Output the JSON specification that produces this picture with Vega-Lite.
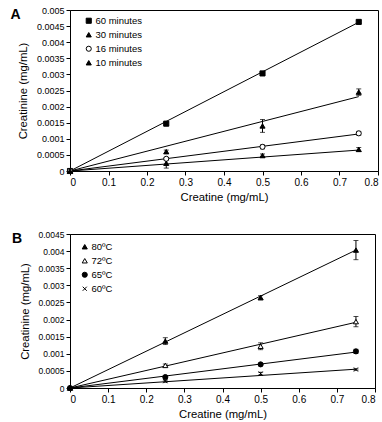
{
  "$schema": "https://vega.github.io/schema/vega-lite/v6.json",
  "padding": {"left": 9, "top": 5, "right": 5, "bottom": 5},
  "spacing": 26,
  "resolve": {"scale": {"shape": "independent", "fill": "independent", "stroke": "independent", "x": "independent", "y": "independent"}, "legend": {"shape": "independent", "fill": "independent", "stroke": "independent"}},
  "config": {
    "font": "Liberation Sans",
    "view": {"stroke": "black", "strokeWidth": 1},
    "axis": {"grid": false, "domainColor": "black", "tickColor": "black", "labelColor": "black", "titleColor": "black", "labelFontSize": 9, "titleFontSize": 11.3, "titleFontWeight": "normal", "tickSize": 4, "labelPadding": 2},
    "axisY": {"titlePadding": 8},
    "legend": {"labelFontSize": 9.5, "labelColor": "black"},
    "title": {"fontSize": 14, "fontWeight": "bold", "anchor": "start", "frame": "bounds", "color": "black"}
  },
  "datasets": {
    "ptsA": [
      {"series": "60 minutes", "x": 0, "y": 0, "lo": 0, "hi": 0},
      {"series": "60 minutes", "x": 0.25, "y": 0.00147, "lo": 0.00142, "hi": 0.00152},
      {"series": "60 minutes", "x": 0.5, "y": 0.00303, "lo": 0.00300, "hi": 0.00306},
      {"series": "60 minutes", "x": 0.75, "y": 0.00463, "lo": 0.00458, "hi": 0.00468},
      {"series": "30 minutes", "x": 0, "y": 0, "lo": 0, "hi": 0},
      {"series": "30 minutes", "x": 0.25, "y": 0.00060, "lo": 0.00055, "hi": 0.00065},
      {"series": "30 minutes", "x": 0.5, "y": 0.00140, "lo": 0.00120, "hi": 0.00160},
      {"series": "30 minutes", "x": 0.75, "y": 0.00245, "lo": 0.00235, "hi": 0.00255},
      {"series": "16 minutes", "x": 0, "y": 0, "lo": 0, "hi": 0},
      {"series": "16 minutes", "x": 0.25, "y": 0.00038, "lo": 0.00034, "hi": 0.00042},
      {"series": "16 minutes", "x": 0.5, "y": 0.00075, "lo": 0.00069, "hi": 0.00081},
      {"series": "16 minutes", "x": 0.75, "y": 0.00117, "lo": 0.00111, "hi": 0.00123},
      {"series": "10 minutes", "x": 0, "y": 0, "lo": 0, "hi": 0},
      {"series": "10 minutes", "x": 0.25, "y": 0.00024, "lo": 0.00009, "hi": 0.00039},
      {"series": "10 minutes", "x": 0.5, "y": 0.00048, "lo": 0.00043, "hi": 0.00053},
      {"series": "10 minutes", "x": 0.75, "y": 0.00067, "lo": 0.00061, "hi": 0.00073}
    ],
    "lineA": [
      {"series": "60 minutes", "x": 0, "y": 0},
      {"series": "60 minutes", "x": 0.75, "y": 0.00462},
      {"series": "30 minutes", "x": 0, "y": 0},
      {"series": "30 minutes", "x": 0.75, "y": 0.00231},
      {"series": "16 minutes", "x": 0, "y": 0},
      {"series": "16 minutes", "x": 0.75, "y": 0.00115},
      {"series": "10 minutes", "x": 0, "y": 0},
      {"series": "10 minutes", "x": 0.75, "y": 0.00065}
    ],
    "ptsB": [
      {"series": "80ºC", "x": 0, "y": 0, "lo": 0, "hi": 0},
      {"series": "80ºC", "x": 0.25, "y": 0.00137, "lo": 0.00127, "hi": 0.00147},
      {"series": "80ºC", "x": 0.5, "y": 0.00264, "lo": 0.00258, "hi": 0.00270},
      {"series": "80ºC", "x": 0.75, "y": 0.00403, "lo": 0.00375, "hi": 0.00431},
      {"series": "72ºC", "x": 0, "y": 0, "lo": 0, "hi": 0},
      {"series": "72ºC", "x": 0.25, "y": 0.00066, "lo": 0.00062, "hi": 0.00070},
      {"series": "72ºC", "x": 0.5, "y": 0.00122, "lo": 0.00112, "hi": 0.00132},
      {"series": "72ºC", "x": 0.75, "y": 0.00194, "lo": 0.00179, "hi": 0.00209},
      {"series": "65ºC", "x": 0, "y": 0, "lo": 0, "hi": 0},
      {"series": "65ºC", "x": 0.25, "y": 0.00032, "lo": 0.00029, "hi": 0.00035},
      {"series": "65ºC", "x": 0.5, "y": 0.00069, "lo": 0.00066, "hi": 0.00072},
      {"series": "65ºC", "x": 0.75, "y": 0.00107, "lo": 0.00101, "hi": 0.00113},
      {"series": "60ºC", "x": 0, "y": 0, "lo": 0, "hi": 0},
      {"series": "60ºC", "x": 0.25, "y": 0.00020, "lo": 0.00017, "hi": 0.00023},
      {"series": "60ºC", "x": 0.5, "y": 0.00042, "lo": 0.00038, "hi": 0.00046},
      {"series": "60ºC", "x": 0.75, "y": 0.00054, "lo": 0.00052, "hi": 0.00056}
    ],
    "lineB": [
      {"series": "80ºC", "x": 0, "y": 0},
      {"series": "80ºC", "x": 0.75, "y": 0.00403},
      {"series": "72ºC", "x": 0, "y": 0},
      {"series": "72ºC", "x": 0.75, "y": 0.00192},
      {"series": "65ºC", "x": 0, "y": 0},
      {"series": "65ºC", "x": 0.75, "y": 0.00105},
      {"series": "60ºC", "x": 0, "y": 0},
      {"series": "60ºC", "x": 0.75, "y": 0.00055}
    ]
  },
  "vconcat": [
    {
      "width": 308,
      "height": 161,
      "title": {"text": "A", "offset": -16, "dx": -7},
      "encoding": {
        "x": {"field": "x", "type": "quantitative", "scale": {"domain": [0, 0.8], "nice": false}, "axis": {"values": [0, 0.1, 0.2, 0.3, 0.4, 0.5, 0.6, 0.7, 0.8], "format": "~g", "labelFontSize": 10, "title": "Creatine (mg/mL)"}},
        "y": {"field": "y", "type": "quantitative", "scale": {"domain": [0, 0.005], "nice": false}, "axis": {"values": [0, 0.0005, 0.001, 0.0015, 0.002, 0.0025, 0.003, 0.0035, 0.004, 0.0045, 0.005], "format": "~g", "title": "Creatinine (mg/mL)"}}
      },
      "layer": [
        {"data": {"name": "lineA"}, "mark": {"type": "line", "color": "black", "strokeWidth": 1}, "encoding": {"detail": {"field": "series"}}},
        {"data": {"name": "ptsA"}, "mark": {"type": "rule", "color": "black", "strokeWidth": 1}, "encoding": {"y": {"field": "lo", "type": "quantitative"}, "y2": {"field": "hi"}}},
        {"data": {"name": "ptsA"}, "mark": {"type": "tick", "color": "black", "size": 5, "thickness": 1, "orient": "horizontal"}, "encoding": {"y": {"field": "lo", "type": "quantitative"}}},
        {"data": {"name": "ptsA"}, "mark": {"type": "tick", "color": "black", "size": 5, "thickness": 1, "orient": "horizontal"}, "encoding": {"y": {"field": "hi", "type": "quantitative"}}},
        {"data": {"name": "ptsA"}, "mark": {"type": "point", "filled": true, "strokeWidth": 1, "size": 26, "opacity": 1},
          "encoding": {
            "shape": {"field": "series", "type": "nominal", "scale": {"domain": ["60 minutes", "30 minutes", "16 minutes", "10 minutes"], "range": ["square", "triangle-up", "circle", "triangle-up"]},
              "legend": {"orient": "none", "legendX": 14, "legendY": 6, "title": null, "rowPadding": 3, "symbolSize": 26, "symbolStrokeWidth": 1, "labelOffset": 2, "padding": 0}},
            "fill": {"field": "series", "type": "nominal", "scale": {"domain": ["60 minutes", "30 minutes", "16 minutes", "10 minutes"], "range": ["black", "black", "white", "black"]}},
            "stroke": {"field": "series", "type": "nominal", "scale": {"domain": ["60 minutes", "30 minutes", "16 minutes", "10 minutes"], "range": ["black", "black", "black", "black"]}}
          }}
      ]
    },
    {
      "width": 305,
      "height": 154,
      "title": {"text": "B", "offset": -16, "dx": -7},
      "encoding": {
        "x": {"field": "x", "type": "quantitative", "scale": {"domain": [0, 0.8], "nice": false}, "axis": {"values": [0, 0.1, 0.2, 0.3, 0.4, 0.5, 0.6, 0.7, 0.8], "format": "~g", "labelFontSize": 10, "title": "Creatine (mg/mL)"}},
        "y": {"field": "y", "type": "quantitative", "scale": {"domain": [0, 0.0045], "nice": false}, "axis": {"values": [0, 0.0005, 0.001, 0.0015, 0.002, 0.0025, 0.003, 0.0035, 0.004, 0.0045], "format": "~g", "labelFontSize": 8.5, "title": "Creatinine (mg/mL)"}}
      },
      "layer": [
        {"data": {"name": "lineB"}, "mark": {"type": "line", "color": "black", "strokeWidth": 1}, "encoding": {"detail": {"field": "series"}}},
        {"data": {"name": "ptsB"}, "mark": {"type": "rule", "color": "black", "strokeWidth": 1}, "encoding": {"y": {"field": "lo", "type": "quantitative"}, "y2": {"field": "hi"}}},
        {"data": {"name": "ptsB"}, "mark": {"type": "tick", "color": "black", "size": 5, "thickness": 1, "orient": "horizontal"}, "encoding": {"y": {"field": "lo", "type": "quantitative"}}},
        {"data": {"name": "ptsB"}, "mark": {"type": "tick", "color": "black", "size": 5, "thickness": 1, "orient": "horizontal"}, "encoding": {"y": {"field": "hi", "type": "quantitative"}}},
        {"data": {"name": "ptsB"}, "mark": {"type": "point", "filled": true, "strokeWidth": 1, "size": 26, "opacity": 1},
          "encoding": {
            "shape": {"field": "series", "type": "nominal", "scale": {"domain": ["80ºC", "72ºC", "65ºC", "60ºC"], "range": ["triangle-up", "triangle-up", "circle", "M-0.8,-0.8L0.8,0.8M-0.8,0.8L0.8,-0.8"]},
              "legend": {"orient": "none", "legendX": 10, "legendY": 8, "title": null, "rowPadding": 3, "symbolSize": 26, "symbolStrokeWidth": 1, "labelOffset": 2, "padding": 0}},
            "fill": {"field": "series", "type": "nominal", "scale": {"domain": ["80ºC", "72ºC", "65ºC", "60ºC"], "range": ["black", "white", "black", "black"]}},
            "stroke": {"field": "series", "type": "nominal", "scale": {"domain": ["80ºC", "72ºC", "65ºC", "60ºC"], "range": ["black", "black", "black", "black"]}}
          }}
      ]
    }
  ]
}
